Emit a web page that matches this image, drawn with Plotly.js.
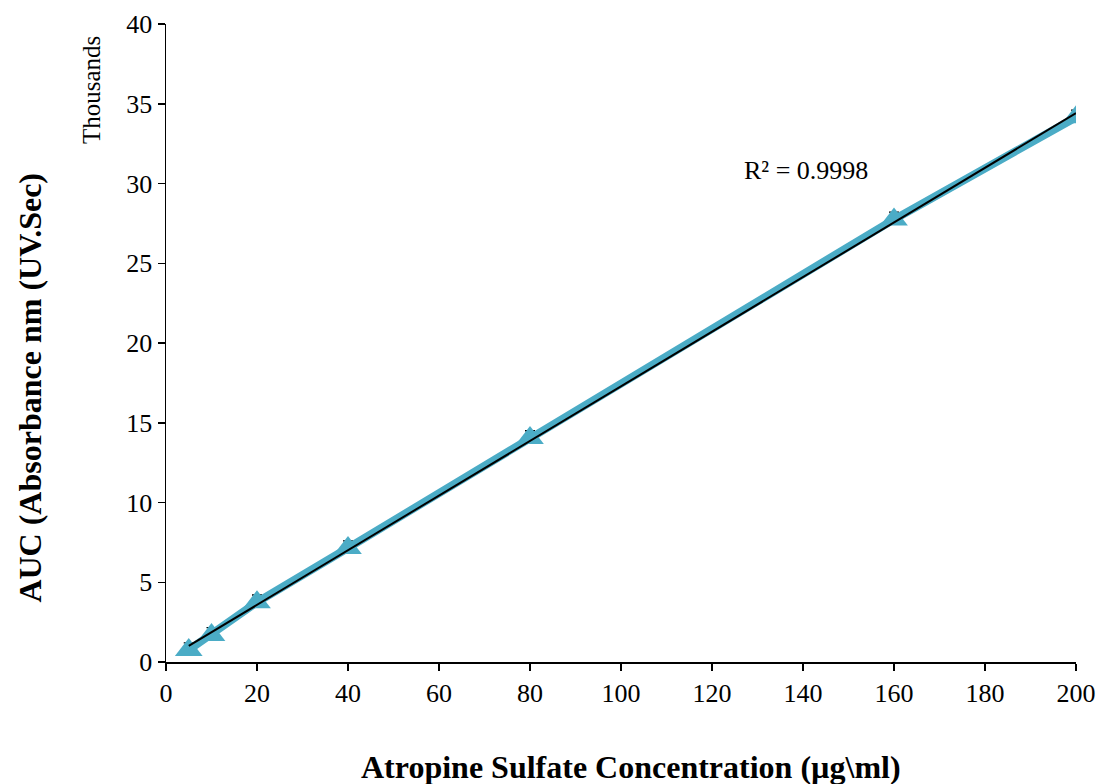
<!DOCTYPE html>
<html>
<head>
<meta charset="utf-8">
<script src="https://cdn.plot.ly/plotly-3.0.1.min.js"></script>
<style>html,body{margin:0;padding:0;background:#fff;}#chart{width:1100px;height:784px;}</style>
</head>
<body>
<div id="chart"></div>
<script>
// Concentration (µg/ml)
const concentration = [5, 10, 20, 40, 80, 160, 200];
// AUC in thousands
const auc = [0.75, 1.7, 3.75, 7.15, 14.05, 27.75, 34.15];
// Upper error (thousands)
const aucError = [0.45, 0.45, 0.45, 0.45, 0.45, 0.45, 0.45];
const r2Label = "R² = 0.9998";
const xTitle = "Atropine Sulfate Concentration (µg\\ml)";
const yTitle = "AUC (Absorbance nm (UV.Sec)";
const yUnits = "Thousands";

// Linear trendline by least squares from data
const n = concentration.length;
const mx = concentration.reduce((a, b) => a + b, 0) / n;
const my = auc.reduce((a, b) => a + b, 0) / n;
let sxy = 0, sxx = 0;
for (let i = 0; i < n; i++) { sxy += (concentration[i] - mx) * (auc[i] - my); sxx += (concentration[i] - mx) ** 2; }
const slope = sxy / sxx, intercept = my - slope * mx;
const trendX = [concentration[0], concentration[n - 1]];
const trendY = trendX.map(x => intercept + slope * x);

const font = "Liberation Serif, Times New Roman, serif";
const blue = "#4BACC6";

const traces = [
  {
    x: concentration, y: auc, type: "scatter", mode: "lines+markers",
    line: {color: blue, width: 8},
    marker: {symbol: "triangle-up", size: 24, color: blue},
    error_y: {type: "data", array: aucError, arrayminus: aucError.map(() => 0), symmetric: false, color: "#000", thickness: 1.3, width: 5},
    showlegend: false, hoverinfo: "x+y"
  },
  {
    x: trendX, y: trendY, type: "scatter", mode: "lines",
    line: {color: "#000", width: 2}, showlegend: false
  }
];

const layout = {
  width: 1100, height: 784,
  margin: {l: 166, r: 24, t: 24, b: 122},
  paper_bgcolor: "#fff", plot_bgcolor: "#fff",
  font: {family: font, size: 26, color: "#000"},
  xaxis: {
    range: [0, 200], dtick: 20, tick0: 0,
    showline: true, linecolor: "#000", linewidth: 1.5,
    ticks: "outside", ticklen: 7, tickcolor: "#000", tickwidth: 1.5,
    showgrid: false, zeroline: false,
    tickfont: {family: font, size: 26, color: "#000"}
  },
  yaxis: {
    range: [0, 40], dtick: 5, tick0: 0,
    showline: true, linecolor: "#000", linewidth: 1.5,
    ticks: "outside", ticklen: 7, tickcolor: "#000", tickwidth: 1.5,
    showgrid: false, zeroline: false,
    tickfont: {family: font, size: 26, color: "#000"}
  },
  annotations: [
    {text: "<b>" + xTitle + "</b>", xref: "paper", yref: "paper", x: 0.511, y: -0.1646, xanchor: "center", yanchor: "middle", showarrow: false, font: {family: font, size: 32, color: "#000"}},
    {text: "<b>" + yTitle + "</b>", xref: "paper", yref: "paper", x: -0.1495, y: 0.43, xanchor: "center", yanchor: "middle", textangle: -90, showarrow: false, font: {family: font, size: 32, color: "#000"}},
    {text: yUnits, xref: "paper", yref: "paper", x: -0.082, y: 0.897, xanchor: "center", yanchor: "middle", textangle: -90, showarrow: false, font: {family: font, size: 25, color: "#000"}},
    {text: r2Label, xref: "x", yref: "y", x: 126.5, y: 30.8, xanchor: "left", yanchor: "middle", showarrow: false, font: {family: font, size: 26, color: "#000"}}
  ]
};

Plotly.newPlot("chart", traces, layout, {displayModeBar: false, staticPlot: true});
</script>
</body>
</html>
